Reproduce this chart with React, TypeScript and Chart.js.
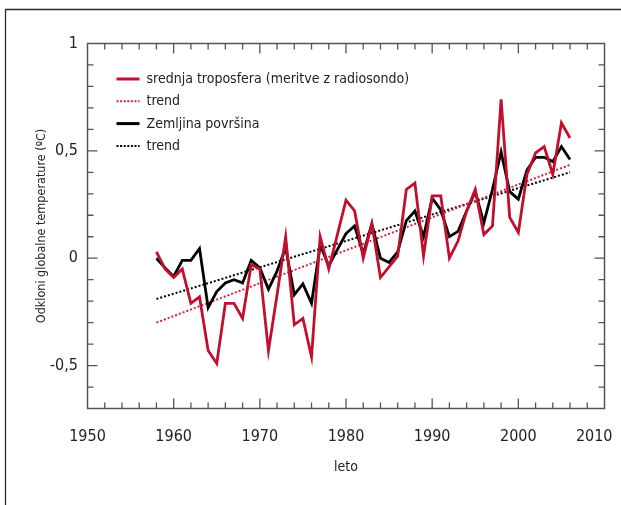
import React, { useEffect, useRef } from "react";
import { Chart, registerables } from "chart.js";

Chart.register(...registerables);

// ---- data ----
const years = [
  1958, 1959, 1960, 1961, 1962, 1963, 1964, 1965, 1966, 1967,
  1968, 1969, 1970, 1971, 1972, 1973, 1974, 1975, 1976, 1977,
  1978, 1979, 1980, 1981, 1982, 1983, 1984, 1985, 1986, 1987,
  1988, 1989, 1990, 1991, 1992, 1993, 1994, 1995, 1996, 1997,
  1998, 1999, 2000, 2001, 2002, 2003, 2004, 2005, 2006,
];
const troposphere = [
  0.03, -0.05, -0.09, -0.05, -0.21, -0.18, -0.43, -0.49, -0.21, -0.21,
  -0.28, -0.03, -0.05, -0.43, -0.17, 0.1, -0.31, -0.28, -0.46, 0.1,
  -0.05, 0.11, 0.27, 0.22, 0.0, 0.16, -0.09, -0.04, 0.01, 0.32,
  0.35, 0.01, 0.29, 0.29, 0.0, 0.08, 0.22, 0.32, 0.11, 0.15,
  0.74, 0.19, 0.12, 0.39, 0.49, 0.52, 0.39, 0.63, 0.56,
];
const surface = [
  0.0, -0.045, -0.085, -0.01, -0.01, 0.045, -0.23, -0.155, -0.115, -0.1,
  -0.115, -0.01, -0.045, -0.145, -0.06, 0.05, -0.17, -0.12, -0.21, 0.06,
  -0.035, 0.04, 0.115, 0.15, 0.02, 0.16, 0.0, -0.02, 0.03, 0.175,
  0.22, 0.1, 0.28, 0.225, 0.1, 0.125, 0.22, 0.31, 0.165, 0.32,
  0.495, 0.31, 0.275, 0.41, 0.47, 0.47, 0.45, 0.52, 0.46,
];
const trendYears = [1958, 2006];
const troposphereTrend = [-0.3, 0.435];
const surfaceTrend = [-0.19, 0.4];

const legendLabels = [
  "srednja troposfera (meritve z radiosondo)",
  "trend",
  "Zemljina površina",
  "trend",
];
const xTitle = "leto";
const yTitle = "Odkloni globalne temperature (ºC)";

const FONT = "'Liberation Sans Narrow', 'DejaVu Sans Condensed', Roboto, sans-serif";
const RED = "#c1102f";
const RED_TREND = "#d6233e";
const BLACK = "#000000";
const TEXT = "#222222";
const X_MIN = 1950;
const X_MAX = 2010;

const legendStyles = [
  { color: RED, width: 3, dash: [] as number[] },
  { color: RED_TREND, width: 2, dash: [2, 1.6] },
  { color: BLACK, width: 3, dash: [] as number[] },
  { color: BLACK, width: 2, dash: [2, 1.6] },
];

const framePlugin = {
  id: "inwardFrame",
  beforeDatasetsDraw(chart: any) {
    const { ctx, chartArea, scales } = chart;
    const { left, right, top, bottom } = chartArea;
    const x = scales.x;
    const y = scales.y;
    ctx.save();
    // outer figure frame
    ctx.strokeStyle = "#2b2b2b";
    ctx.lineWidth = 1.3;
    ctx.beginPath();
    ctx.moveTo(5.5, chart.height);
    ctx.lineTo(5.5, 9.5);
    ctx.lineTo(chart.width, 9.5);
    ctx.stroke();
    // plot border
    ctx.strokeStyle = "#555555";
    ctx.lineWidth = 1.5;
    ctx.strokeRect(left, top, right - left, bottom - top);
    // inward ticks
    ctx.lineWidth = 1.3;
    ctx.beginPath();
    for (let yr = X_MIN + 2; yr < X_MAX; yr += 2) {
      const px = x.getPixelForValue(yr);
      const len = yr % 10 === 0 ? 10 : 6;
      ctx.moveTo(px, bottom);
      ctx.lineTo(px, bottom - len);
      ctx.moveTo(px, top);
      ctx.lineTo(px, top + len);
    }
    for (let k = -6; k <= 9; k++) {
      const py = y.getPixelForValue(k / 10);
      const len = k % 5 === 0 ? 10 : 6;
      ctx.moveTo(left, py);
      ctx.lineTo(left + len, py);
      ctx.moveTo(right, py);
      ctx.lineTo(right - len, py);
    }
    ctx.stroke();
    // last x label, pulled inside the figure like the original
    ctx.font = `16px ${FONT}`;
    ctx.fillStyle = TEXT;
    ctx.textAlign = "right";
    ctx.textBaseline = "middle";
    ctx.fillText(String(X_MAX), x.getPixelForValue(X_MAX) + 8, bottom + 28.6);
    ctx.restore();
  },
  afterDatasetsDraw(chart: any) {
    const { ctx, chartArea } = chart;
    const { left, top } = chartArea;
    ctx.save();
    ctx.font = `14px ${FONT}`;
    ctx.textBaseline = "middle";
    ctx.textAlign = "left";
    legendLabels.forEach((label, i) => {
      const st = legendStyles[i];
      const yy = top + 35.5 + i * 22.3;
      ctx.strokeStyle = st.color;
      ctx.lineWidth = st.width;
      ctx.setLineDash(st.dash);
      ctx.beginPath();
      ctx.moveTo(left + 29, yy);
      ctx.lineTo(left + 52, yy);
      ctx.stroke();
      ctx.setLineDash([]);
      ctx.fillStyle = TEXT;
      ctx.fillText(label, left + 59, yy + 0.5);
    });
    ctx.restore();
  },
};

export default function App() {
  const ref = useRef<HTMLCanvasElement | null>(null);

  useEffect(() => {
    if (!ref.current) return;
    const line = (xs: number[], ys: number[]) => xs.map((v, i) => ({ x: v, y: ys[i] }));
    const chart = new Chart(ref.current, {
      type: "line",
      data: {
        datasets: [
          {
            label: legendLabels[0],
            data: line(years, troposphere),
            borderColor: RED,
            borderWidth: 2.8,
            pointRadius: 0,
            tension: 0,
            borderJoinStyle: "miter",
            fill: false,
          },
          {
            label: legendLabels[2],
            data: line(years, surface),
            borderColor: BLACK,
            borderWidth: 2.8,
            pointRadius: 0,
            tension: 0,
            borderJoinStyle: "miter",
            fill: false,
          },
          {
            label: legendLabels[1],
            data: line(trendYears, troposphereTrend),
            borderColor: RED_TREND,
            borderWidth: 2,
            borderDash: [2, 2],
            pointRadius: 0,
            fill: false,
          },
          {
            label: legendLabels[3],
            data: line(trendYears, surfaceTrend),
            borderColor: BLACK,
            borderWidth: 2,
            borderDash: [2, 2],
            pointRadius: 0,
            fill: false,
          },
        ],
      },
      options: {
        animation: false,
        responsive: false,
        layout: { padding: { top: 43.5, right: 16.5, left: 0, bottom: 0 } },
        plugins: {
          legend: { display: false },
          tooltip: { enabled: false },
        },
        scales: {
          x: {
            type: "linear",
            min: X_MIN,
            max: X_MAX,
            grid: { display: false, drawTicks: false },
            border: { display: false },
            ticks: {
              stepSize: 10,
              autoSkip: false,
              maxRotation: 0,
              padding: 19,
              color: TEXT,
              font: { family: FONT, size: 16 },
              callback: (v: any) => (v === X_MAX ? "" : String(v)),
            },
            title: {
              display: true,
              text: xTitle,
              color: TEXT,
              font: { family: FONT, size: 14 },
              padding: { top: 0, bottom: 29 },
            },
            afterFit: (s: any) => {
              s.height = 96.5;
              s.paddingLeft = 0;
              s.paddingRight = 0;
            },
          },
          y: {
            type: "linear",
            min: -0.7,
            max: 1,
            grid: { display: false, drawTicks: false },
            border: { display: false },
            ticks: {
              stepSize: 0.5,
              includeBounds: false,
              padding: 9.5,
              color: TEXT,
              font: { family: FONT, size: 16 },
              callback: (v: any) => String(v).replace(".", ","),
            },
            title: {
              display: true,
              text: yTitle,
              color: TEXT,
              font: { family: FONT, size: 12.5 },
              padding: { top: 34.5, bottom: 0 },
            },
            afterFit: (s: any) => {
              s.width = 87.5;
              s.paddingTop = 0;
              s.paddingBottom = 0;
            },
          },
        },
      },
      plugins: [framePlugin],
    } as any);
    return () => chart.destroy();
  }, []);

  return (
    <div style={{ position: "fixed", left: 0, top: 0, width: 621, height: 505, background: "#fff" }}>
      <canvas ref={ref} width={621} height={505} style={{ display: "block", width: 621, height: 505 }} />
    </div>
  );
}
